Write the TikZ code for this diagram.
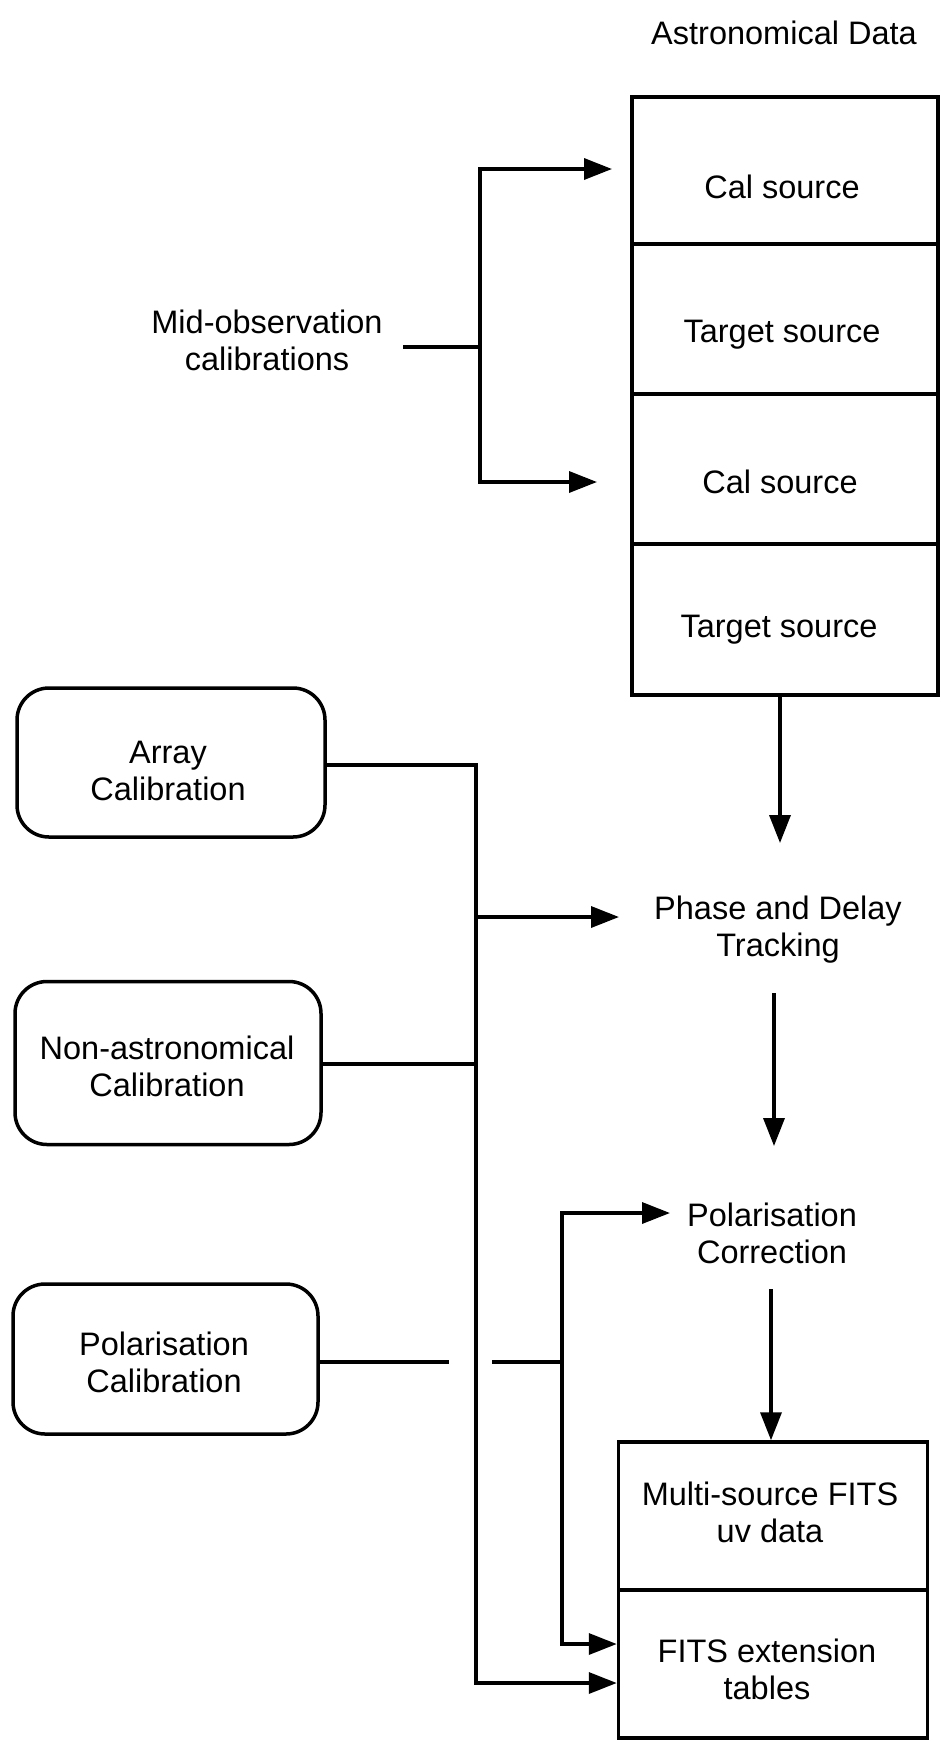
\documentclass[tikz,border=0pt]{standalone}
\usepackage{fontspec}
\setmainfont{Liberation Sans}
\usetikzlibrary{arrows.meta}
\begin{document}
\begin{tikzpicture}[x=1pt,y=-1pt,line width=3.5pt,
  lbl/.style={font=\fontsize{32.5}{37}\selectfont,align=center,inner sep=0pt},
  cell/.style={draw,rectangle,inner sep=0pt},
  calbox/.style={draw,rectangle,rounded corners=32pt,inner sep=0pt},
  arr/.style={-{Triangle[length=28pt,width=21pt]}},
  arrs/.style={{Triangle[length=28pt,width=21pt]}-{Triangle[length=28pt,width=21pt]}}]
\useasboundingbox (0,0) rectangle (946,1749);

% title
\node[lbl] (title) at (784,33) {Astronomical Data};

% stacked astronomical data cells
\node[cell,minimum width=306pt,minimum height=147pt] (cal1) at (785,170.5) {};
\node[cell,minimum width=306pt,minimum height=150pt] (tgt1) at (785,319) {};
\node[cell,minimum width=306pt,minimum height=150pt] (cal2) at (785,469) {};
\node[cell,minimum width=306pt,minimum height=151pt] (tgt2) at (785,619.5) {};
\node[lbl] (cal1t) at (782,187) {Cal source};
\node[lbl] (tgt1t) at (782,335) {Target source};
\node[lbl] (cal2t) at (780,482) {Cal source};
\node[lbl] (tgt2t) at (779,630) {Target source};

% mid-observation calibrations
\node[lbl] (mid) at (267,340) {Mid-observation\\calibrations};
\coordinate (midS) at (403,347);
\coordinate (midJ) at (480,347);
\coordinate (midT) at (480,169);
\coordinate (midB) at (480,482);
\coordinate (midTe) at (612,169);
\coordinate (midBe) at (597,482);
\draw (midS) -- (midJ);
\draw[arrs] (midTe) -- (midT) -- (midB) -- (midBe);

% processing chain
\node[lbl] (phase) at (778,930) {Phase and Delay\\Tracking};
\node[lbl] (polc) at (772,1233) {Polarisation\\Correction};
\node[cell,minimum width=309pt,minimum height=148pt] (fits) at (773,1516) {};
\node[cell,minimum width=309pt,minimum height=148pt] (ext) at (773,1664) {};
\node[lbl] (fitst) at (770,1512) {Multi-source FITS\\uv data};
\node[lbl] (extt) at (767,1669) {FITS extension\\tables};

\coordinate (d1e) at (780,843);
\coordinate (d2s) at (774,993);
\coordinate (d2e) at (774,1146);
\coordinate (d3s) at (771,1289);
\draw[arr] (tgt2.south -| d1e) -- (d1e);
\draw[arr] (d2s) -- (d2e);
\draw[arr] (d3s) -- (d3s |- fits.north);

% calibration inputs
\node[calbox,minimum width=308pt,minimum height=149pt] (arrc) at (171,762.5) {};
\node[calbox,minimum width=306pt,minimum height=163pt] (nonc) at (168,1063) {};
\node[calbox,minimum width=305pt,minimum height=150pt] (polcal) at (165.5,1359) {};
\node[lbl] (arrt) at (168,771) {Array\\Calibration};
\node[lbl] (nont) at (167,1066) {Non-astronomical\\Calibration};
\node[lbl] (polt) at (164,1362) {Polarisation\\Calibration};

% main calibration bus
\coordinate (busT) at (476,765);
\coordinate (busP) at (476,917);
\coordinate (busN) at (476,1064);
\coordinate (busB) at (476,1683);
\draw[arr] (arrc.east |- busT) -- (busT) -- (busB) -- (busB -| ext.west);
\draw (nonc.east |- busN) -- (busN);
\draw[arr] (busP) -- (619,917) coordinate (phaseIn);

% polarisation calibration bus (crosses the main bus with a gap)
\coordinate (pcA) at (449,1362);
\coordinate (pcB) at (492,1362);
\coordinate (pbJ) at (562,1362);
\coordinate (pbT) at (562,1213);
\coordinate (pbB) at (562,1644);
\coordinate (polcIn) at (670,1213);
\draw (polcal.east |- pcA) -- (pcA);
\draw (pcB) -- (pbJ);
\draw[arrs] (polcIn) -- (pbT) -- (pbB) -- (pbB -| ext.west);
\end{tikzpicture}
\end{document}
